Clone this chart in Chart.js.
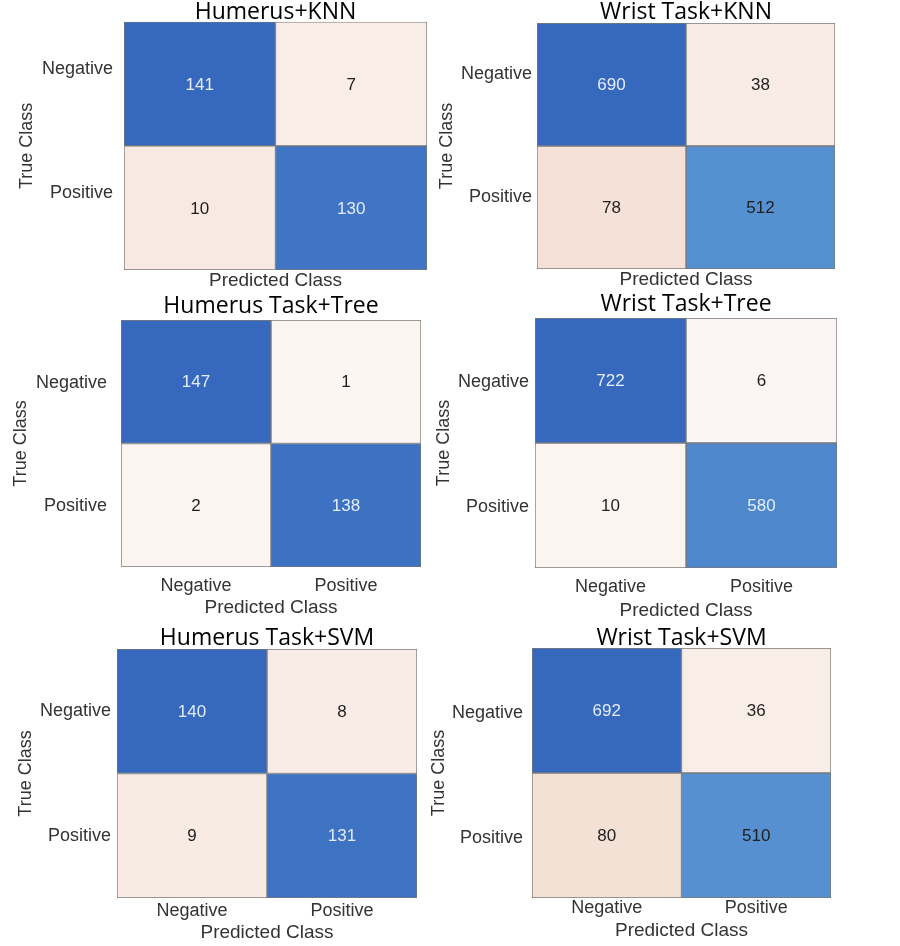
<!DOCTYPE html>
<html><head><meta charset="utf-8">
<script src="https://cdn.jsdelivr.net/npm/chart.js@4/dist/chart.umd.min.js"></script>
<style>
html,body{margin:0;padding:0;background:#fff;}
#wrap{position:relative;width:900px;height:946px;overflow:hidden;background:#fff;}
#wrap canvas{position:absolute;left:0;top:0;}
</style></head><body><div id="wrap"></div>
<script>
// ---- data ----
const trueClasses = ['Negative', 'Positive'];
const predictedClasses = ['Negative', 'Positive'];
const panelTitles = ['Humerus+KNN', 'Wrist Task+KNN', 'Humerus Task+Tree', 'Wrist Task+Tree', 'Humerus Task+SVM', 'Wrist Task+SVM'];
const humerusKnn = [[141, 7], [10, 130]];
const wristKnn = [[690, 38], [78, 512]];
const humerusTree = [[147, 1], [2, 138]];
const wristTree = [[722, 6], [10, 580]];
const humerusSvm = [[140, 8], [9, 131]];
const wristSvm = [[692, 36], [80, 510]];
const matrices = [humerusKnn, wristKnn, humerusTree, wristTree, humerusSvm, wristSvm];
const showPredictedTicks = [false, false, true, true, true, true];

// ---- layout (page pixels) ----
const geometry = [
  {l:124, r:427, t:20,  b:270, titleY:11,  yTitleX:27,  tickPad:11, labelOffset:-15, xTickY:null, xTitleY:281},
  {l:537, r:835, t:23,  b:269, titleY:13,  yTitleX:447, tickPad:5,  labelOffset:-10, xTickY:null, xTitleY:280},
  {l:121, r:421, t:320, b:567, titleY:307, yTitleX:21,  tickPad:14, labelOffset:1,   xTickY:586,  xTitleY:608},
  {l:535, r:837, t:318, b:568, titleY:305, yTitleX:444, tickPad:6,  labelOffset:2,   xTickY:587,  xTitleY:611},
  {l:117, r:417, t:649, b:898, titleY:639, yTitleX:26,  tickPad:6,  labelOffset:0,   xTickY:911,  xTitleY:933},
  {l:532, r:831, t:648, b:898, titleY:639, yTitleX:439, tickPad:9,  labelOffset:3,   xTickY:908,  xTitleY:931}
];
const W = 900, H = 946;
const TITLE_FONT = {family: "'Open Sans', sans-serif", size: 23, weight: 'normal'};
const TICK_FONT = {family: "'Liberation Sans', Arial, sans-serif", size: 18};
const YTITLE_FONT = {family: "'Liberation Sans', Arial, sans-serif", size: 18};
const XTITLE_FONT = {family: "'Liberation Sans', Arial, sans-serif", size: 19};
const VALUE_FONT = "17px 'Liberation Sans', Arial, sans-serif";

function mix(a, b, t) {
  t = Math.max(0, Math.min(1, t));
  return a.map((v, k) => Math.round(v + (b[k] - v) * t));
}
function rgb(c) { return 'rgb(' + c.join(',') + ')'; }
function cellShade(m, i, j) {
  const max = Math.max(...m.flat());
  return m[i][j] / max;
}
function cellColor(m, i, j) {
  const s = cellShade(m, i, j);
  if (i === j) {
    if (s < 0.7) return rgb(mix([250, 250, 252], [90, 150, 212], s / 0.7));
    return rgb(mix([90, 150, 212], [54, 105, 190], (s - 0.7) / 0.3));
  }
  return rgb(mix([253, 247, 245], [244, 224, 213], s / 0.12));
}
function textColor(m, i, j) {
  const s = cellShade(m, i, j);
  return (i === j && s > 0.77) ? '#e4ecfb' : '#1e1e1e';
}

const cellValues = {
  id: 'cellValues',
  afterDatasetsDraw(chart, args, opts) {
    const m = opts.matrix;
    const ctx = chart.ctx;
    ctx.save();
    ctx.font = VALUE_FONT;
    ctx.textAlign = 'center';
    ctx.textBaseline = 'middle';
    chart.data.datasets.forEach((ds, j) => {
      chart.getDatasetMeta(j).data.forEach((el, i) => {
        const c = el.getCenterPoint();
        ctx.fillStyle = textColor(m, i, j);
        ctx.fillText(String(m[i][j]), c.x, c.y + 1);
      });
    });
    ctx.restore();
  }
};

const wrap = document.getElementById('wrap');
matrices.forEach((m, p) => {
  const g = geometry[p];
  const cv = document.createElement('canvas');
  cv.width = W; cv.height = H;
  cv.style.width = W + 'px'; cv.style.height = H + 'px';
  wrap.appendChild(cv);

  const titleLH = TITLE_FONT.size * 1.2;
  const padTop = Math.max(0, g.titleY - 14.5);
  const tPadTop = g.titleY - 14.5 - padTop;
  const tPadBottom = g.t - padTop - titleLH - tPadTop;
  const yTitleLH = YTITLE_FONT.size * 1.2;
  const padLeft = g.yTitleX - yTitleLH / 2;
  const xTitleLH = XTITLE_FONT.size * 1.2;
  const xBottom = g.xTitleY + xTitleLH / 2;
  const tickLH = TICK_FONT.size * 1.2;

  new Chart(cv, {
    type: 'bar',
    data: {
      labels: trueClasses,
      datasets: predictedClasses.map((pc, j) => ({
        label: pc,
        data: trueClasses.map(() => [j, j + 1]),
        backgroundColor: trueClasses.map((tc, i) => cellColor(m, i, j)),
        borderColor: '#7a7a7a',
        borderWidth: 1,
        borderSkipped: false,
        grouped: false,
        barPercentage: 1,
        categoryPercentage: 1
      }))
    },
    options: {
      indexAxis: 'y',
      responsive: false,
      animation: false,
      devicePixelRatio: 1,
      layout: {padding: {left: padLeft, top: padTop, right: W - g.r, bottom: H - xBottom}},
      plugins: {
        legend: {display: false},
        tooltip: {enabled: false},
        title: {display: true, text: panelTitles[p], fullSize: false, color: '#000', font: TITLE_FONT,
                padding: {top: tPadTop, bottom: tPadBottom}},
        cellValues: {matrix: m}
      },
      scales: {
        y: {
          type: 'category', offset: true,
          grid: {display: false, drawTicks: false}, border: {display: false},
          ticks: {padding: g.tickPad, labelOffset: g.labelOffset, font: TICK_FONT, color: '#333'},
          title: {display: true, text: 'True Class', font: YTITLE_FONT, color: '#333', padding: {top: 0, bottom: 0}},
          afterFit: s => { s.width = g.l - padLeft; }
        },
        x: {
          type: 'linear', min: 0, max: predictedClasses.length, bounds: 'data',
          grid: {display: false, drawTicks: false}, border: {display: false},
          afterBuildTicks: s => { s.ticks = predictedClasses.map((pc, j) => ({value: j + 0.5})); },
          ticks: {display: showPredictedTicks[p], autoSkip: false, maxRotation: 0,
                  padding: g.xTickY ? g.xTickY - g.b - tickLH / 2 : 4,
                  font: TICK_FONT, color: '#333',
                  callback: v => predictedClasses[Math.floor(v)]},
          title: {display: true, text: 'Predicted Class', font: XTITLE_FONT, color: '#333', padding: {top: 0, bottom: 0}},
          afterFit: s => { s.height = xBottom - g.b; }
        }
      }
    },
    plugins: [cellValues]
  });
});
</script>
</body></html>
